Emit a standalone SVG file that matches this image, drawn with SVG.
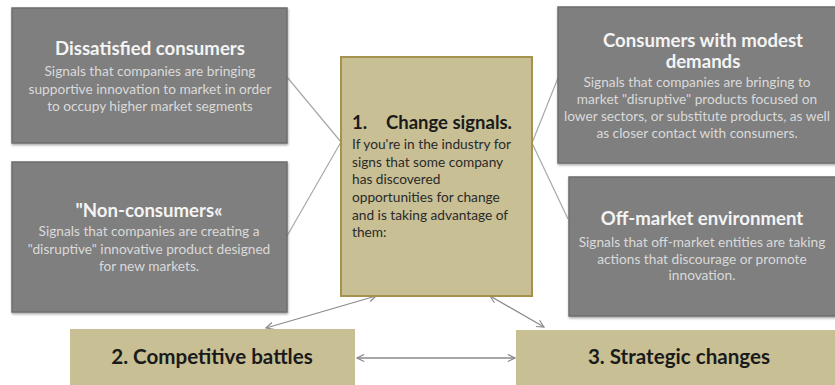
<svg xmlns="http://www.w3.org/2000/svg" width="835" height="385" viewBox="0 0 835 385">
  <defs>
    <marker id="chev" viewBox="0 0 10 10" refX="9" refY="5" markerWidth="9" markerHeight="9" markerUnits="userSpaceOnUse" orient="auto-start-reverse">
      <path d="M1,1 L9,5 L1,9" fill="none" stroke="#8a8a8a" stroke-width="1.3"/>
    </marker>
    <filter id="shade" x="-5%" y="-5%" width="110%" height="115%">
      <feDropShadow dx="0.5" dy="1.5" stdDeviation="0.8" flood-color="#000" flood-opacity="0.35"/>
    </filter>
  </defs>
  <style>
    .grey { fill: #7f7f7f; stroke: #6e6e6e; stroke-width: 1.5; }
    .tan { fill: #c8bf95; }
    .center { fill: #c8bf95; stroke: #a4934f; stroke-width: 2; }
    .ttl { font-family: Lato, "Liberation Sans", sans-serif; font-weight: bold; fill: #f4f4f4; font-size: 18.6px; text-anchor: middle; }
    .body { font-family: Lato, "Liberation Sans", sans-serif; fill: #dadada; font-size: 13.7px; text-anchor: middle; }
    .ctl { font-family: Lato, "Liberation Sans", sans-serif; font-weight: bold; fill: #1a1a1a; font-size: 18.5px; }
    .cbody { font-family: Lato, "Liberation Sans", sans-serif; fill: #2a2a2a; font-size: 13.7px; }
    .btl { font-family: Lato, "Liberation Sans", sans-serif; font-weight: bold; fill: #1a1a1a; font-size: 20.6px; text-anchor: middle; }
    .link { stroke: #a8a8a8; stroke-width: 1.2; fill: none; }
    .arrow { stroke: #8a8a8a; stroke-width: 1.3; fill: none; marker-start: url(#chev); marker-end: url(#chev); }
  </style>

  <!-- connectors -->
  <g id="connectors">
    <line class="link" x1="287" y1="77" x2="341" y2="142"/>
    <line class="link" x1="287" y1="236" x2="341" y2="142"/>
    <line class="link" x1="532" y1="143" x2="558" y2="78"/>
    <line class="link" x1="532" y1="143" x2="568" y2="219"/>
    <line class="arrow" x1="376" y1="296" x2="266" y2="328"/>
    <line class="arrow" x1="490" y1="296" x2="544" y2="327"/>
    <line class="arrow" x1="357" y1="358" x2="515" y2="358"/>
  </g>

  <g id="dissatisfied">
    <rect class="grey" x="12" y="8" width="275" height="135" filter="url(#shade)"/>
    <text class="ttl" x="150" y="55">Dissatisfied consumers</text>
    <text class="body" x="150" y="76">Signals that companies are bringing</text>
    <text class="body" x="150" y="93.5">supportive innovation to market in order</text>
    <text class="body" x="150" y="111">to occupy higher market segments</text>
  </g>

  <g id="non-consumers">
    <rect class="grey" x="12" y="162" width="275" height="150" filter="url(#shade)"/>
    <text class="ttl" x="149" y="217">"Non-consumers«</text>
    <text class="body" x="149" y="236">Signals that companies are creating a</text>
    <text class="body" x="149" y="253.5">"disruptive" innovative product designed</text>
    <text class="body" x="149" y="271">for new markets.</text>
  </g>

  <g id="change-signals">
    <rect class="center" x="341" y="57" width="191" height="239"/>
    <text class="ctl" y="129"><tspan x="352">1.</tspan><tspan x="386">Change signals.</tspan></text>
    <text class="cbody" x="352" y="149">If you're in the industry for</text>
    <text class="cbody" x="352" y="167">signs that some company</text>
    <text class="cbody" x="352" y="184">has discovered</text>
    <text class="cbody" x="352" y="202">opportunities for change</text>
    <text class="cbody" x="352" y="219.5">and is taking advantage of</text>
    <text class="cbody" x="352" y="237">them:</text>
  </g>

  <g id="modest-demands">
    <rect class="grey" x="558" y="7" width="290" height="156" filter="url(#shade)"/>
    <text class="ttl" x="703" y="47">Consumers with modest</text>
    <text class="ttl" x="703" y="68">demands</text>
    <text class="body" x="697" y="87">Signals that companies are bringing to</text>
    <text class="body" x="697" y="104">market "disruptive" products focused on</text>
    <text class="body" x="697" y="121">lower sectors, or substitute products, as well</text>
    <text class="body" x="697" y="137.5">as closer contact with consumers.</text>
  </g>

  <g id="off-market">
    <rect class="grey" x="569" y="177" width="280" height="139" filter="url(#shade)"/>
    <text class="ttl" x="702" y="225">Off-market environment</text>
    <text class="body" x="702" y="247">Signals that off-market entities are taking</text>
    <text class="body" x="702" y="263.5">actions that discourage or promote</text>
    <text class="body" x="702" y="280">innovation.</text>
  </g>

  <g id="competitive-battles">
    <rect class="tan" x="70" y="329" width="285" height="60"/>
    <text class="btl" x="212" y="364">2. Competitive battles</text>
  </g>

  <g id="strategic-changes">
    <rect class="tan" x="516" y="330" width="325" height="60"/>
    <text class="btl" x="679" y="364">3. Strategic changes</text>
  </g>
</svg>
